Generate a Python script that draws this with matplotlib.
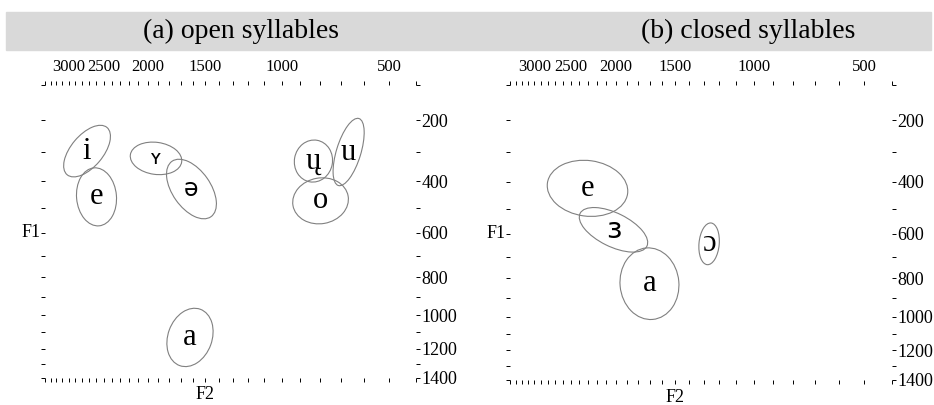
import numpy as np
import matplotlib.pyplot as plt
from matplotlib.patches import Ellipse, Rectangle


def bark(f):
    # Traunmueller bark scale
    f = np.asarray(f, dtype=float)
    return 26.81 * f / (1960.0 + f) - 0.53


# (a) open syllables: centre in Hz, ellipse semi-axes in Bark, tilt in degrees
open_vowels = ['i', 'e', 'ʏ', 'ə', 'ų', 'u', 'o', 'a']
open_f2 = [2725, 2596, 1923, 1609, 832, 667, 797, 1621]
open_f1 = [297, 457, 321, 428, 330, 300, 472, 1130]
open_major = [1.04, 0.98, 0.87, 1.14, 0.71, 1.18, 0.94, 1.01]
open_minor = [0.54, 0.67, 0.54, 0.64, 0.64, 0.41, 0.77, 0.74]
open_angle = [50, 95, -8, -55, 80, 73, 10, 70]

# (b) closed syllables
closed_vowels = ['e', 'ɜ', 'ɔ', 'a']
closed_f2 = [2301, 2027, 1264, 1701]
closed_f1 = [423, 583, 642, 826]
closed_major = [1.32, 1.22, 0.70, 1.20]
closed_minor = [0.93, 0.56, 0.33, 0.96]
closed_angle = [-8, -27, 85, 95]

f2_ticks = [3400] + list(range(3300, 499, -100)) + [400]
f2_labels = [3000, 2500, 2000, 1500, 1000, 500]
f1_ticks = list(range(100, 1401, 100))
f1_labels = [200, 400, 600, 800, 1000, 1200, 1400]

# glyphs that come out in a sans face in the original
sans_glyphs = {'ʏ': 14, 'ə': 17, 'ɜ': 21}

plt.rcParams['font.family'] = ['Liberation Serif', 'DejaVu Serif']

fig = plt.figure(figsize=(9.34, 4.05), dpi=100)

# grey header band
fig.patches.append(Rectangle((6 / 934, 1 - 50 / 405), 925 / 934, 38 / 405,
                             transform=fig.transFigure, color='#d9d9d9', zorder=0))
fig.text(241 / 934, 1 - 31 / 405, '(a) open syllables', ha='center', va='center',
         fontsize=20)
fig.text(748 / 934, 1 - 31 / 405, '(b) closed syllables', ha='center', va='center',
         fontsize=20)


def vowel_plot(ax, vowels, f2, f1, major, minor, angle):
    for v, x, y, a, b, ang in zip(vowels, f2, f1, major, minor, angle):
        cx, cy = bark(x), bark(y)
        ax.add_patch(Ellipse((cx, cy), 2 * a, 2 * b, angle=ang, fill=False,
                             edgecolor='0.5', lw=0.8))
        if v in sans_glyphs:
            ax.text(cx, cy, v, ha='center', va='center', family='DejaVu Sans',
                    fontsize=sans_glyphs[v])
        else:
            ax.text(cx, cy, v, ha='center', va='center', fontsize=22)

    ax.set_xlim(bark(3400), bark(400))
    ax.set_ylim(bark(1400), bark(100))
    for s in ax.spines.values():
        s.set_visible(False)

    ax.set_xticks(bark(f2_ticks))
    ax.set_xticklabels([str(t) if t in f2_labels else '' for t in f2_ticks])
    ax.set_yticks(bark(f1_ticks))
    ax.set_yticklabels([str(t) if t in f1_labels else '' for t in f1_ticks])
    ax.tick_params(axis='x', top=True, bottom=True, labeltop=True, labelbottom=False,
                   direction='out', length=3, width=0.7, pad=4, labelsize=12)
    ax.tick_params(axis='y', left=True, right=True, labelleft=False, labelright=True,
                   direction='out', length=3, width=0.7, pad=1, labelsize=13)

    ax.text(-0.012, bark(600), 'F1', transform=ax.get_yaxis_transform(),
            ha='right', va='center', fontsize=13)
    ax.text(bark(1500), -0.058, 'F2', transform=ax.get_xaxis_transform(),
            ha='center', va='center', fontsize=13)


ax1 = fig.add_axes([45 / 934, 1 - 378 / 405, 371 / 934, 293 / 405])
vowel_plot(ax1, open_vowels, open_f2, open_f1, open_major, open_minor, open_angle)

ax2 = fig.add_axes([510 / 934, 1 - 380 / 405, 382 / 934, 295 / 405])
vowel_plot(ax2, closed_vowels, closed_f2, closed_f1, closed_major, closed_minor,
           closed_angle)

fig.savefig('out.png', dpi=100)
